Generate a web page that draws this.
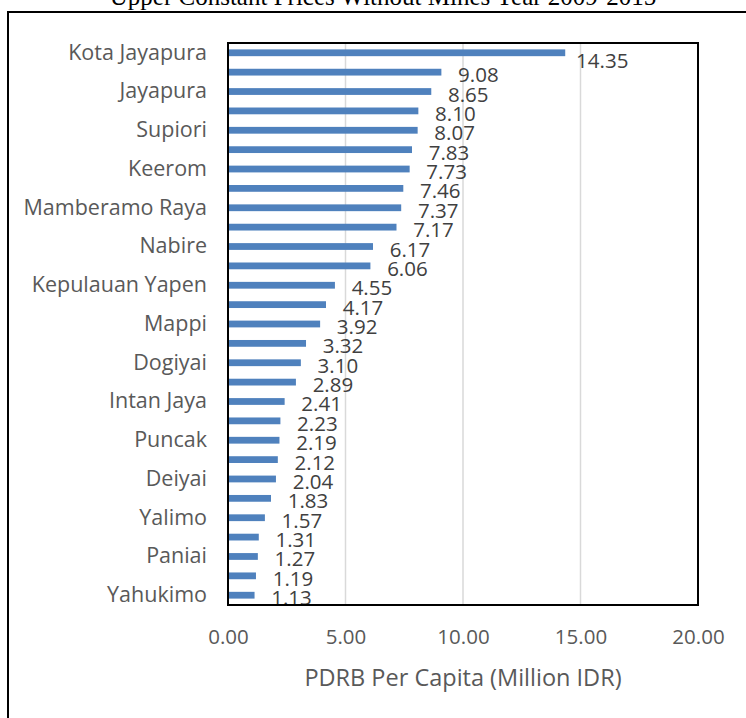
<!DOCTYPE html>
<html>
<head>
<meta charset="utf-8">
<script src="https://cdn.jsdelivr.net/npm/d3@7"></script>
<style>
  body { margin: 0; background: #fff; }
  text { font-family: "Open Sans", sans-serif; fill: #595959; }
</style>
</head>
<body>
<script>
// chart size
const width = 746;
const height = 718;

// regencies, top to bottom (only every other label is printed on the axis)
const regencies = [
  "Kota Jayapura", "Mimika", "Jayapura", "Merauke", "Supiori", "Biak Numfor",
  "Keerom", "Sarmi", "Mamberamo Raya", "Boven Digoel", "Nabire", "Waropen",
  "Kepulauan Yapen", "Jayawijaya", "Mappi", "Asmat", "Dogiyai", "Mamberamo Tengah",
  "Intan Jaya", "Pegunungan Bintang", "Puncak", "Tolikara", "Deiyai", "Lanny Jaya",
  "Yalimo", "Puncak Jaya", "Paniai", "Nduga", "Yahukimo"
];
// PDRB per capita, million IDR
const pdrbPerCapita = [
  14.35, 9.08, 8.65, 8.10, 8.07, 7.83, 7.73, 7.46, 7.37, 7.17, 6.17, 6.06,
  4.55, 4.17, 3.92, 3.32, 3.10, 2.89, 2.41, 2.23, 2.19, 2.12, 2.04, 1.83,
  1.57, 1.31, 1.27, 1.19, 1.13
];
const xTicks = [0, 5, 10, 15, 20];

const titleText = "Upper Constant Prices Without Mines Year 2009-2015";
const axisTitle = "PDRB Per Capita (Million IDR)";

const data = regencies.map((name, i) => ({ name, value: pdrbPerCapita[i] }));

const margin = { top: 43, right: 48, bottom: 113, left: 228 };

const svg = d3
  .select("body")
  .append("svg")
  .attr("width", width)
  .attr("height", height);

// title, mostly cut off by the top edge
svg
  .append("text")
  .attr("x", 383)
  .attr("y", 5)
  .attr("text-anchor", "middle")
  .style("font-family", "'Liberation Serif', 'Times New Roman', serif")
  .style("font-size", "25px")
  .style("fill", "#000")
  .text(titleText);

// outer frame (right and bottom edges are outside the picture)
svg
  .append("path")
  .attr("d", `M8,${height + 5} L8,12 L${width + 5},12`)
  .attr("fill", "none")
  .attr("stroke", "#000")
  .attr("stroke-width", 2);

const x = d3
  .scaleLinear()
  .domain([0, 20])
  .range([margin.left, width - margin.right]);

const y = d3
  .scaleBand()
  .domain(regencies)
  .range([margin.top, height - margin.bottom])
  .paddingInner(0.65)
  .paddingOuter(0.33);

// vertical gridlines
svg
  .append("g")
  .selectAll("line")
  .data(xTicks.slice(1, -1))
  .join("line")
  .attr("x1", (d) => x(d))
  .attr("x2", (d) => x(d))
  .attr("y1", margin.top)
  .attr("y2", height - margin.bottom)
  .attr("stroke", "#d9d9d9")
  .attr("stroke-width", 1.5);

// bars
svg
  .append("g")
  .selectAll("rect")
  .data(data)
  .join("rect")
  .attr("x", x(0))
  .attr("y", (d) => y(d.name))
  .attr("width", (d) => x(d.value) - x(0))
  .attr("height", y.bandwidth())
  .attr("fill", "#4f81bd");

// value labels
svg
  .append("g")
  .selectAll("text")
  .data(data)
  .join("text")
  .attr("x", (d) => x(d.value) + 37)
  .attr("y", (d, i) => y(d.name) + y.bandwidth() / 2 + (i === 0 ? 7 : 2))
  .attr("text-anchor", "middle")
  .attr("dominant-baseline", "central")
  .style("font-size", "20.5px")
  .style("fill", "#404040")
  .text((d) => d.value.toFixed(2));

// plot border
svg
  .append("rect")
  .attr("x", margin.left)
  .attr("y", margin.top)
  .attr("width", width - margin.right - margin.left)
  .attr("height", height - margin.bottom - margin.top)
  .attr("fill", "none")
  .attr("stroke", "#000")
  .attr("stroke-width", 2);

// category axis, every other label
const yAxis = d3
  .axisLeft(y)
  .tickSize(0)
  .tickPadding(21)
  .tickFormat((d, i) => (i % 2 === 0 ? d : ""));

svg
  .append("g")
  .attr("transform", `translate(${margin.left},0)`)
  .call(yAxis)
  .call((g) => g.select(".domain").remove())
  .selectAll("text")
  .style("font-family", "'Open Sans', sans-serif")
  .style("font-size", "21.5px")
  .style("fill", "#595959");

// value axis
const xAxis = d3
  .axisBottom(x)
  .tickValues(xTicks)
  .tickSize(0)
  .tickPadding(24)
  .tickFormat((d) => d3.format(".2f")(d));

svg
  .append("g")
  .attr("transform", `translate(0,${height - margin.bottom})`)
  .call(xAxis)
  .call((g) => g.select(".domain").remove())
  .selectAll("text")
  .style("font-family", "'Open Sans', sans-serif")
  .style("font-size", "20.5px")
  .style("fill", "#595959");

svg
  .append("text")
  .attr("x", (x(0) + x(20)) / 2)
  .attr("y", 686)
  .attr("text-anchor", "middle")
  .style("font-size", "23.5px")
  .text(axisTitle);
</script>
</body>
</html>
